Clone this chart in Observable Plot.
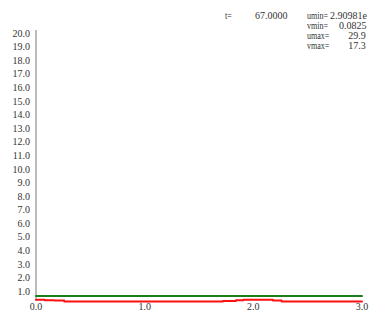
<!DOCTYPE html>
<html>
<head>
<meta charset="utf-8">
<script src="https://cdn.jsdelivr.net/npm/d3@7"></script>
<script src="https://cdn.jsdelivr.net/npm/@observablehq/plot@0.6"></script>
<style>
  body { margin: 0; background: #fff; }
  #wrap { position: relative; width: 369px; height: 322px; overflow: hidden; background: #fff; }
  .hd { position: absolute; font-family: "Liberation Serif", serif; font-size: 10px; color: #333; white-space: pre; line-height: 10px; }
  .lb { transform: scaleX(0.8); transform-origin: left center; }
</style>
</head>
<body>
<div id="wrap"></div>
<script>
// Data
const xTicks = [0, 1, 2, 3];
const yTicks = [1, 2, 3, 4, 5, 6, 7, 8, 9, 10, 11, 12, 13, 14, 15, 16, 17, 18, 19, 20];
const greenX = [0, 3];
const greenY = [0.67, 0.67];
const redX = [0, 0.08, 0.17, 0.26, 1.72, 1.84, 1.91, 2.18, 2.26, 3];
const redY = [0.40, 0.36, 0.33, 0.26, 0.30, 0.36, 0.40, 0.33, 0.26, 0.26];
const headerLabels = ["t=", "umin=", "vmin=", "umax=", "vmax="];
const headerValues = ["67.0000", "2.90981e", "0.0825", "29.9", "17.3"];

const green = greenX.map((x, i) => ({x, y: greenY[i]}));
const red = redX.map((x, i) => ({x, y: redY[i]}));
const fmt = d3.format(".1f");

const chart = Plot.plot({
  width: 369,
  height: 322,
  marginLeft: 35.5,
  marginRight: 7.5,
  marginTop: 30,
  marginBottom: 22,
  insetTop: 3,
  insetBottom: -4.6,
  style: { fontFamily: "'Liberation Serif', serif", fontSize: "10px", color: "#333", background: "#fff" },
  x: { domain: [0, 3] },
  y: { domain: [0, 20] },
  marks: [
    Plot.frame({ anchor: "left", stroke: "#777", strokeWidth: 1 }),
    Plot.axisY({ ticks: yTicks, tickSize: 0, tickPadding: 6, tickFormat: fmt, label: null }),
    Plot.axisX({ ticks: xTicks, tickSize: 0, tickPadding: 2, tickFormat: fmt, label: null }),
    Plot.line(green, { x: "x", y: "y", stroke: "#1a7f1a", strokeWidth: 2 }),
    Plot.line(red, { x: "x", y: "y", stroke: "#ff1010", strokeWidth: 2, curve: "step-after" })
  ]
});
const wrap = document.getElementById("wrap");
wrap.appendChild(chart);

// header texts
const pos = [
  { l: [225, 11], v: [255, 11] },
  { l: [306.5, 11], v: [330, 11] },
  { l: [306.5, 21], v: [339, 21] },
  { l: [306.5, 31], v: [348.3, 31] },
  { l: [306.5, 40.5], v: [348.3, 40.5] }
];
headerLabels.forEach((lab, i) => {
  const a = document.createElement("div");
  a.className = "hd lb"; a.textContent = lab;
  a.style.left = pos[i].l[0] + "px"; a.style.top = pos[i].l[1] + "px";
  wrap.appendChild(a);
  const b = document.createElement("div");
  b.className = "hd"; b.textContent = headerValues[i];
  b.style.left = pos[i].v[0] + "px"; b.style.top = pos[i].v[1] + "px";
  wrap.appendChild(b);
});
</script>
</body>
</html>
